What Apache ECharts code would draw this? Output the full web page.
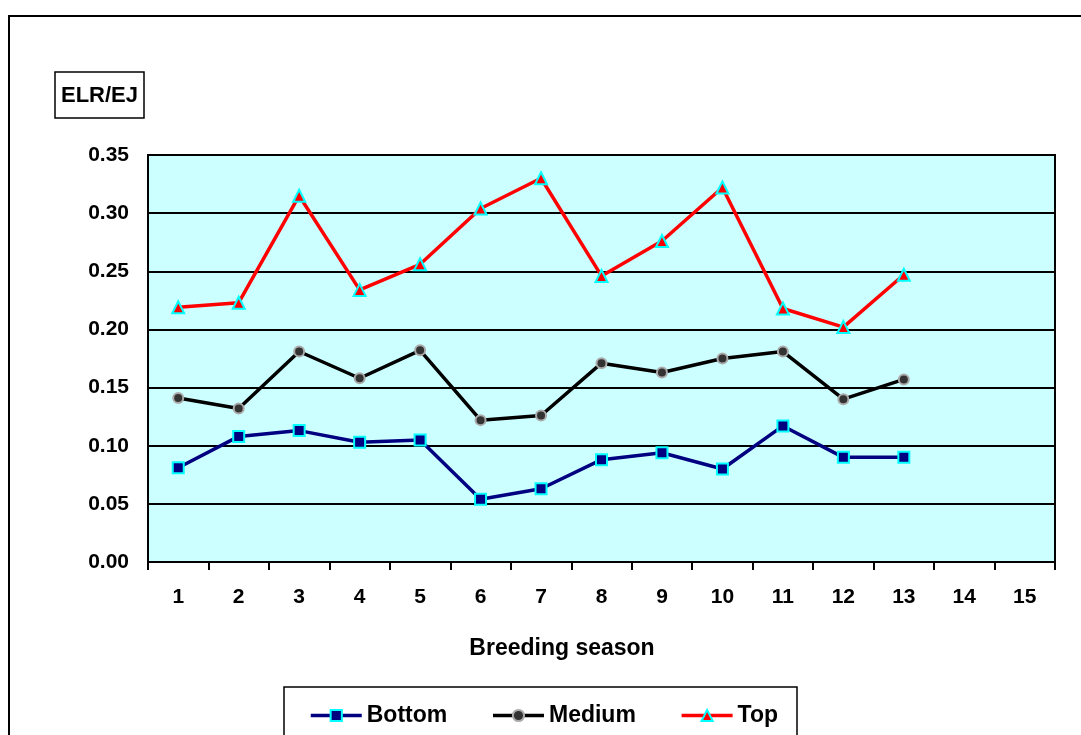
<!DOCTYPE html>
<html><head><meta charset="utf-8">
<script src="https://cdn.jsdelivr.net/npm/echarts@6/dist/echarts.min.js"></script>
<style>html,body{margin:0;padding:0;background:#fff}#c{width:1081px;height:735px}</style>
</head><body><div id="c"></div>
<script>
const categories = ['1','2','3','4','5','6','7','8','9','10','11','12','13','14','15'];
const bottomVals = [0.081,0.108,0.113,0.103,0.105,0.054,0.063,0.088,0.094,0.080,0.117,0.090,0.090];
const mediumVals = [0.141,0.132,0.181,0.158,0.182,0.122,0.126,0.171,0.163,0.175,0.181,0.140,0.157];
const topVals = [0.219,0.223,0.315,0.234,0.256,0.304,0.330,0.246,0.276,0.322,0.218,0.202,0.247];
const yTitle = 'ELR/EJ';
const xTitle = 'Breeding season';

const font = 'Arial, "Liberation Sans", sans-serif';
const chart = echarts.init(document.getElementById('c'));
chart.setOption({
  animation: false,
  backgroundColor: '#fff',
  textStyle: {fontFamily: font},
  grid: {left: 148, top: 155, width: 907, height: 407, show: true,
    backgroundColor: '#CCFFFF', borderColor: '#000', borderWidth: 2},
  xAxis: {type: 'category', data: categories, boundaryGap: true,
    axisLine: {show: true, lineStyle: {color: '#000', width: 2}},
    axisTick: {show: true, interval: 0, length: 8, lineStyle: {color: '#000', width: 2}},
    axisLabel: {fontSize: 21, fontWeight: 'bold', color: '#000', margin: 25, fontFamily: font, interval: 0},
    splitLine: {show: false}},
  yAxis: {type: 'value', min: 0, max: 0.35, interval: 0.05,
    axisLine: {show: true, lineStyle: {color: '#000', width: 2}},
    axisTick: {show: false},
    axisLabel: {fontSize: 21, fontWeight: 'bold', color: '#000', margin: 19, fontFamily: font,
      formatter: v => v.toFixed(2)},
    splitLine: {show: true, lineStyle: {color: '#000', width: 2}}},
  legend: {left: 304, top: 699, itemWidth: 51, itemHeight: 14, itemGap: 44,
    lineStyle: {width: 3.5},
    textStyle: {fontSize: 23, fontWeight: 'bold', color: '#000', fontFamily: font, padding: [0,0,0,0]},
    data: ['Bottom','Medium','Top']},
  graphic: [
    {type: 'rect', shape: {x: 9, y: 16, width: 1090, height: 740}, style: {fill: 'none', stroke: '#000', lineWidth: 2}, z: 100},
    {type: 'rect', shape: {x: 55, y: 72, width: 89, height: 46}, style: {fill: '#fff', stroke: '#000', lineWidth: 1.5}, z: 100},
    {type: 'text', x: 99.5, y: 96, style: {text: yTitle, fill: '#000', font: 'bold 22px ' + font, align: 'center', verticalAlign: 'middle'}, z: 101},
    {type: 'text', x: 562, y: 649, style: {text: xTitle, fill: '#000', font: 'bold 23px ' + font, align: 'center', verticalAlign: 'middle'}, z: 101},
    {type: 'rect', shape: {x: 284, y: 687, width: 513, height: 70}, style: {fill: 'none', stroke: '#000', lineWidth: 1.5}, z: 100}
  ],
  series: [
    {name: 'Bottom', type: 'line', data: bottomVals, symbol: 'rect', symbolSize: 11,
      lineStyle: {color: '#000080', width: 3.5}, itemStyle: {color: '#000080', borderColor: '#00FFFF', borderWidth: 2}},
    {name: 'Medium', type: 'line', data: mediumVals, symbol: 'circle', symbolSize: 10,
      lineStyle: {color: '#000', width: 3.5}, itemStyle: {color: '#333', borderColor: '#aaa', borderWidth: 2}},
    {name: 'Top', type: 'line', data: topVals, symbol: 'triangle', symbolSize: 12,
      lineStyle: {color: '#FF0000', width: 3.5}, itemStyle: {color: '#FF0000', borderColor: '#00FFFF', borderWidth: 2}}
  ]
});
</script></body></html>
